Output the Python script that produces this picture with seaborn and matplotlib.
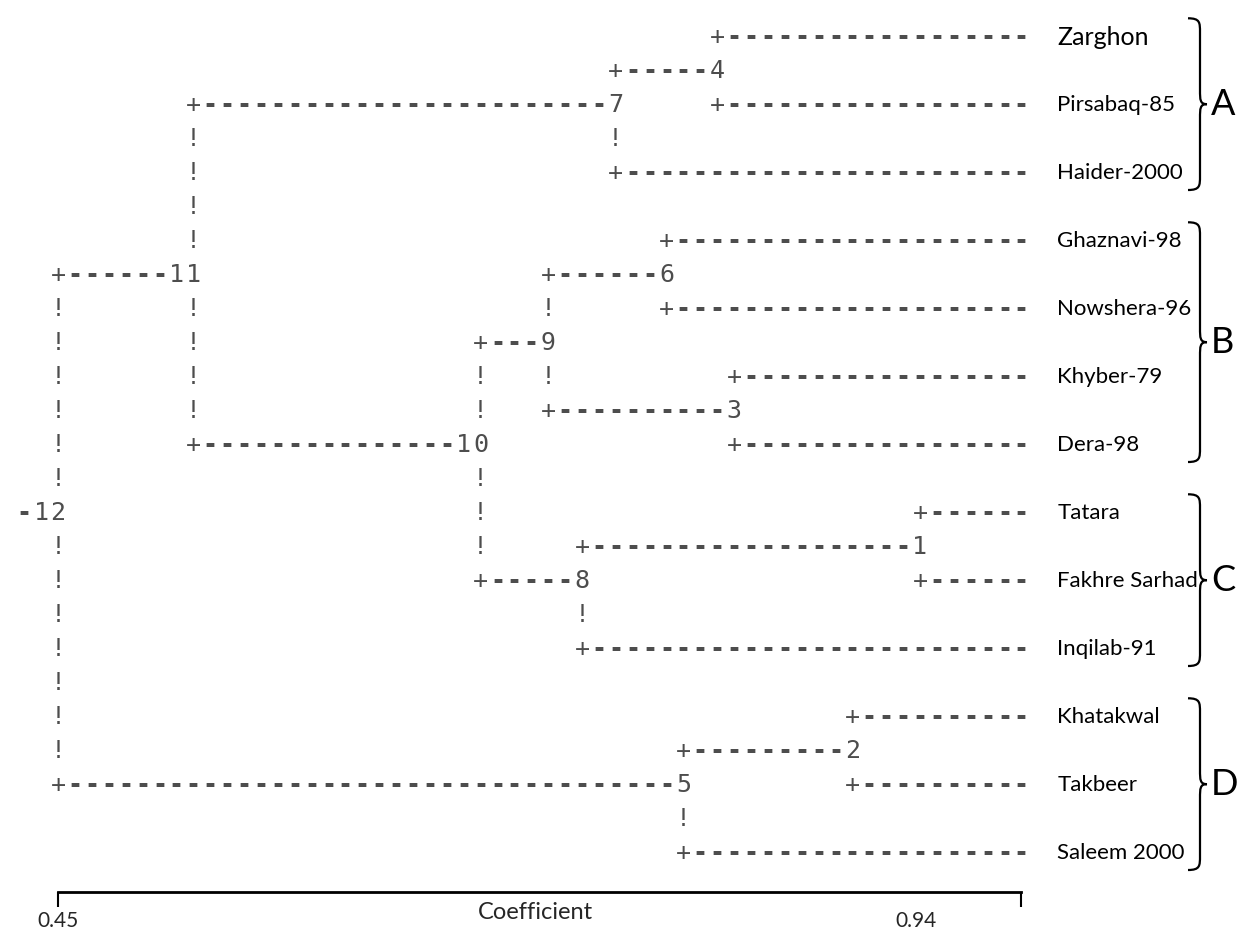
import matplotlib
matplotlib.use("Agg")
import matplotlib.pyplot as plt
from matplotlib.path import Path
from matplotlib.patches import PathPatch
import seaborn as sns

# dendrogramm (NTSYS text tree)
leaves = ["Zarghon", "Pirsabaq-85", "Haider-2000", "Ghaznavi-98", "Nowshera-96",
          "Khyber-79", "Dera-98", "Tatara", "Fakhre Sarhad", "Inqilab-91",
          "Khatakwal", "Takbeer", "Saleem 2000"]
merge_id = [1, 2, 3, 4, 5, 6, 7, 8, 9, 10, 11, 12]
merge_a = ["Tatara", "Khatakwal", "Khyber-79", "Zarghon", 2, "Ghaznavi-98", 4, 1, 6, 9, 7, 11]
merge_b = ["Fakhre Sarhad", "Takbeer", "Dera-98", "Pirsabaq-85", "Saleem 2000",
           "Nowshera-96", "Haider-2000", "Inqilab-91", 3, 8, 10, 5]
merge_coef = [0.942, 0.904, 0.836, 0.826, 0.807, 0.797, 0.768, 0.749, 0.730, 0.691, 0.527, 0.450]

groups = ["A", "B", "C", "D"]
group_first = ["Zarghon", "Ghaznavi-98", "Tatara", "Khatakwal"]
group_last = ["Haider-2000", "Dera-98", "Inqilab-91", "Saleem 2000"]

coef_min, coef_max = 0.45, 1.00
tick_pos = [0.45, 0.94]
tick_txt = ["0.45", "0.94"]

# layout of the text grid
n_cols = 57
step = (coef_max - coef_min) / n_cols
px_x = step / 16.9      # coefficient units per pixel
px_y = 1 / 34.0         # rows per pixel

rows, cols = {}, {}
for i, name in enumerate(leaves):
    rows[name] = 2 * i
    cols[name] = n_cols
for k, a, b, c in zip(merge_id, merge_a, merge_b, merge_coef):
    rows[k] = (rows[a] + rows[b]) // 2
    cols[k] = round((c - coef_min) / step)

grid = {}


def put(r, c, s):
    for j, ch in enumerate(s):
        grid[(r, c + j)] = ch


for k, a, b in zip(merge_id, merge_a, merge_b):
    ck = cols[k]
    for child in (a, b):
        if isinstance(child, str):
            put(rows[child], ck, "+" + "-" * (n_cols - ck))
        else:
            lab = str(child)
            put(rows[child], ck, "+" + "-" * (cols[child] - ck - len(lab)) + lab)
    for r in range(rows[a] + 1, rows[b]):
        if r != rows[k]:
            put(r, ck, "!")
root = merge_id[-1]
put(rows[root], cols[root] - len(str(root)), "-" + str(root))

sns.set_theme(style="white")
plt.rcParams["font.family"] = ["Lato", "DejaVu Sans"]

fig = plt.figure(figsize=(12.44, 9.30), dpi=100)
ax = fig.add_axes([0, 0, 1, 1])
ax.set_xlim(coef_min - 58 * px_x, coef_min + 1186 * px_x)
ax.set_ylim(930 * px_y - 37 * px_y, -37 * px_y)

for (r, c), ch in grid.items():
    ax.text(coef_min + c * step, r, ch, ha="center", va="center",
            family="DejaVu Sans Mono", fontsize=18,
            fontweight="bold" if ch == "-" else "normal", color="#4d4d4d")

for name in leaves:
    ax.text(coef_max + 36 * px_x, rows[name], name, ha="left", va="center",
            fontsize=18 if name == "Zarghon" else 16, color="black")

# braces
x0 = coef_min + (1188 - 58) * px_x
xm = x0 + 12 * px_x
xt = x0 + 19 * px_x
rr = 14 * px_y
for g, f, l in zip(groups, group_first, group_last):
    yt, yb = rows[f] - 0.55, rows[l] + 0.5
    ym = (yt + yb) / 2
    verts = [(x0, yt), (xm, yt), (xm, yt + rr * 0.3), (xm, yt + rr),
             (xm, ym - rr),
             (xm, ym - rr * 0.3), (xm, ym), (xt, ym),
             (xm, ym), (xm, ym + rr * 0.3), (xm, ym + rr),
             (xm, yb - rr),
             (xm, yb - rr * 0.3), (xm, yb), (x0, yb)]
    codes = [Path.MOVETO, Path.CURVE4, Path.CURVE4, Path.CURVE4,
             Path.LINETO,
             Path.CURVE4, Path.CURVE4, Path.CURVE4,
             Path.CURVE4, Path.CURVE4, Path.CURVE4,
             Path.LINETO,
             Path.CURVE4, Path.CURVE4, Path.CURVE4]
    ax.add_patch(PathPatch(Path(verts, codes), fill=False, lw=1.6, color="black"))
    ax.text(xt + 4 * px_x, ym, g, ha="left", va="center", fontsize=26, color="black")

# coefficient axis
sns.despine(ax=ax, left=True, top=True, right=True)
ax.spines["bottom"].set_position(("data", rows[leaves[-1]] + 39 * px_y))
ax.spines["bottom"].set_bounds(coef_min, coef_max)
ax.spines["bottom"].set_linewidth(2)
ax.spines["bottom"].set_color("black")
ax.set_yticks([])
ax.set_xticks([tick_pos[0], coef_max], [tick_txt[0], ""])
ax.set_xticks([tick_pos[1]], [tick_txt[1]], minor=True)
ax.tick_params(axis="x", which="major", direction="out", length=11, width=1.5,
               color="black", pad=3, labelsize=15, bottom=True)
ax.tick_params(axis="x", which="minor", length=0, pad=14, labelsize=15, bottom=True)
ax.set_xlabel("Coefficient", fontsize=17)
ax.xaxis.set_label_coords(535 / 1244, 1 - 902 / 930)

fig.savefig("out.png", dpi=100)
